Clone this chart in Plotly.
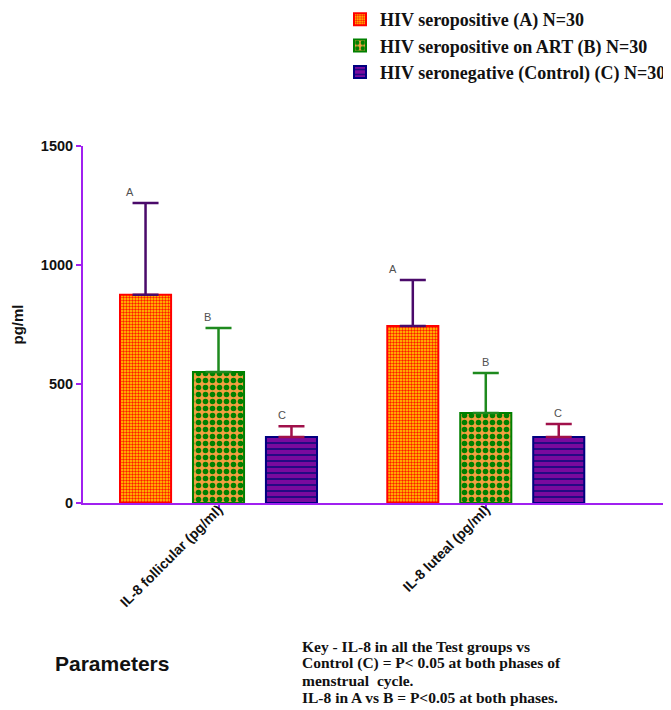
import plotly.graph_objects as go

categories = ["IL-8 follicular (pg/ml)", "IL-8 luteal (pg/ml)"]
series_names = ["HIV seropositive (A) N=30",
                "HIV seropositive on ART (B) N=30",
                "HIV seronegative (Control) (C) N=30"]
means_A = [875, 744]
means_B = [550, 378]
means_C = [277, 277]
sd_A = [385, 193]
sd_B = [185, 168]
sd_C = [46, 55]
labels = ["A", "B", "C"]
label_xshift = [[-89, -93], [-11, 0], [63, 72]]
key_lines = ["Key - IL-8 in all the Test groups vs",
             "Control (C) = P< 0.05 at both phases of",
             "menstrual  cycle.",
             "IL-8 in A vs B = P<0.05 at both phases."]

fills = [
    dict(line="#FF0000", fg="#FF1A00", bg="#FFD800", shape=".", size=3, sol=0.5, err="#4A0A6A"),
    dict(line="#008000", fg="#008000", bg="#F2A040", shape=".", size=7, sol=0.5, err="#1E8A1E"),
    dict(line="#000080", fg="#1A0A80", bg="#7A0A9E", shape="-", size=6, sol=0.3, err="#A0104A"),
]

means = [means_A, means_B, means_C]
sds = [sd_A, sd_B, sd_C]

# page body has an 8px margin: figure is sized so the page matches 671x710
W, H = 663, 702
PL, PT, PB = 83, 146, 503   # plot-area edges in page pixels

def px(x):
    return (x - PL) / 588

def py(y):
    return (PB - y) / (PB - PT)

fig = go.Figure()
for i in range(3):
    f = fills[i]
    fig.add_trace(go.Bar(
        x=categories, y=means[i], name="<b>" + series_names[i] + "</b>",
        legendgroup=str(i),
        marker=dict(color=f["bg"], line=dict(color=f["line"], width=2),
                    pattern=dict(shape=f["shape"], fgcolor=f["fg"], bgcolor=f["bg"],
                                 size=f["size"], solidity=f["sol"], fillmode="replace")),
        error_y=dict(type="data", array=sds[i], arrayminus=[0] * len(sds[i]),
                     symmetric=False, color=f["err"], thickness=2.5, width=13),
    ))
    for j, c in enumerate(categories):
        fig.add_annotation(x=c, y=means[i][j] + sds[i][j], text=labels[i],
                           showarrow=False, yanchor="bottom", yshift=3,
                           xshift=label_xshift[i][j],
                           font=dict(family="Arial, Liberation Sans", size=11, color="#505050"))

axis_color = "#A020F0"
fig.update_layout(
    width=W, height=H,
    margin=dict(l=PL - 8, r=0, t=PT - 8, b=H - (PB - 8), autoexpand=False),
    plot_bgcolor="white", paper_bgcolor="white",
    barmode="group", bargap=0.181, bargroupgap=0.30,
    showlegend=True,
    legend=dict(x=px(340), y=py(1), xanchor="left", yanchor="top",
                font=dict(family="Liberation Serif, Times New Roman", size=18, color="#111111"),
                tracegroupgap=0, bgcolor="rgba(0,0,0,0)"),
    xaxis=dict(range=[-0.507, 1.693], showline=True, linecolor=axis_color, linewidth=2,
               ticks="outside", tickcolor=axis_color, ticklen=5, tickwidth=2,
               tickangle=-45, showgrid=False, zeroline=False,
               ticklabelstandoff=-14,
               tickfont=dict(family="Arial, Liberation Sans", size=14, color="#111111", weight="bold")),
    yaxis=dict(range=[0, 1500], tickvals=[0, 500, 1000, 1500], showline=True,
               linecolor=axis_color, linewidth=2, ticks="outside", tickcolor=axis_color,
               ticklen=5, tickwidth=2, showgrid=False, zeroline=False,
               tickfont=dict(family="Arial, Liberation Sans", size=14.5, color="#111111", weight="bold"),
               title=dict(text="<b>pg/ml</b>", standoff=14,
                          font=dict(family="Arial, Liberation Sans", size=15, color="#111111"))),
)

fig.add_annotation(xref="paper", yref="paper", x=px(112), y=py(663),
                   text="<b>Parameters</b>", showarrow=False, xanchor="center", yanchor="middle",
                   font=dict(family="Arial, Liberation Sans", size=21, color="#111111"))
for k, line in enumerate(key_lines):
    fig.add_annotation(xref="paper", yref="paper", x=px(300), y=py(646 + 17 * k),
                       text="<b>" + line + "</b>", showarrow=False,
                       xanchor="left", yanchor="middle", align="left",
                       font=dict(family="Liberation Serif, Times New Roman", size=15.5, color="#111111"))

fig.write_html("out.html")
